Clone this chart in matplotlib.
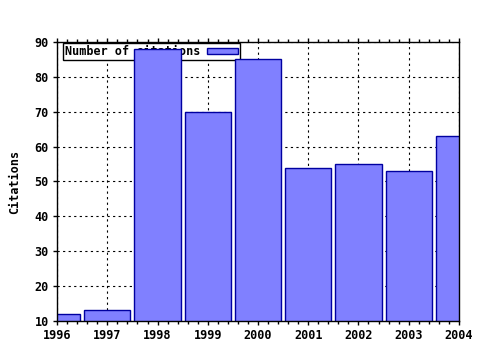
import matplotlib
matplotlib.use("Agg")
import matplotlib.pyplot as plt
from matplotlib.ticker import MultipleLocator

years = [1996, 1997, 1998, 1999, 2000, 2001, 2002, 2003, 2004]
citations = [12, 13, 88, 70, 85, 54, 55, 53, 63]
y_ticks = [10, 20, 30, 40, 50, 60, 70, 80, 90]

plt.rcParams["font.family"] = "DejaVu Sans Mono"
plt.rcParams["font.weight"] = "bold"
plt.rcParams["axes.labelweight"] = "bold"
plt.rcParams["font.size"] = 8.5

fig = plt.figure(figsize=(4.8, 3.5), dpi=100)
ax = fig.add_axes([0.119, 0.083, 0.837, 0.797])

ax.bar(years, citations, width=0.92, bottom=0, color="#8080ff",
       edgecolor="#0000a0", linewidth=1.0, label="Number of citations", zorder=3)

ax.set_xlim(1996, 2004)
ax.set_ylim(10, 90)
ax.set_xticks(years)
ax.set_xticklabels([str(y) for y in years])
ax.set_yticks(y_ticks)
ax.xaxis.set_minor_locator(MultipleLocator(0.2))

ax.tick_params(axis="both", which="both", direction="out", width=1, color="black")
ax.tick_params(axis="both", which="major", length=3, pad=3)
ax.tick_params(axis="x", which="minor", length=2)
ax.tick_params(axis="x", which="both", top=True)

ax.grid(True, which="major", color="black", linestyle=(0, (2, 3)), linewidth=0.8, zorder=1)
ax.set_axisbelow(True)
for spine in ax.spines.values():
    spine.set_linewidth(1.0)
    spine.set_zorder(4)

ax.set_ylabel("Citations", labelpad=10)

leg = ax.legend(loc="upper left", bbox_to_anchor=(0.015, 0.995), markerfirst=False,
                fancybox=False, framealpha=1, edgecolor="black", borderpad=0.15,
                handlelength=2.6, handleheight=0.45, borderaxespad=0, handletextpad=0.6)
leg.set_zorder(2)
leg.get_frame().set_linewidth(1.0)

fig.savefig("out.png", dpi=100)
